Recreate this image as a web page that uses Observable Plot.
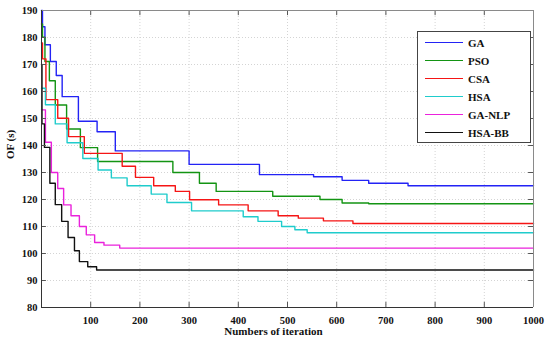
<!DOCTYPE html>
<html><head><meta charset="utf-8">
<script src="https://cdn.jsdelivr.net/npm/d3@7"></script>
<script src="https://cdn.jsdelivr.net/npm/@observablehq/plot@0.6"></script>
<style>
body{margin:0;background:#fff;}
#wrap{position:relative;width:550px;height:342px;}
.legend{position:absolute;left:417px;top:31px;width:114px;height:112px;border:1px solid #444;background:#fff;box-sizing:border-box;}
.item{position:absolute;left:0;height:14px;font:bold 11px "Liberation Serif","Times New Roman",serif;color:#111;}
.item span.ln{position:absolute;left:7px;top:6px;width:38px;height:0;border-top:1.5px solid;}
.item span.tx{position:absolute;left:50px;top:0;line-height:14px;white-space:nowrap;}
</style></head><body><div id="wrap"></div>
<script>
// ---- data ----
const seriesNames = ["GA", "PSO", "CSA", "HSA", "GA-NLP", "HSA-BB"];
const seriesColors = ["#2323f5", "#139413", "#f51515", "#1fcccc", "#ea22dc", "#111111"];

const gaIter = [0, 2, 7, 18, 30, 42, 75, 113, 150, 300, 443, 553, 611, 665, 745, 1000];
const gaOF   = [190, 184, 177.3, 171.1, 165.9, 158.1, 149, 145.1, 138, 133, 129.2, 128.4, 127.1, 126, 125.1, 125.1];

const psoIter = [0, 2, 7, 16, 28, 51, 79, 114, 267, 321, 355, 470, 566, 611, 665, 1000];
const psoOF   = [185, 180.1, 171.1, 164, 155, 146.1, 139.2, 134.1, 130, 126, 123, 121.2, 120, 118.7, 118.4, 118.4];

const csaIter = [0, 2, 9, 33, 55, 87, 164, 191, 228, 272, 301, 360, 420, 481, 522, 573, 633, 1000];
const csaOF   = [178, 172.1, 157, 150.1, 143.3, 137.1, 132.3, 128.2, 125.1, 123, 119.9, 118, 115.8, 114, 113.1, 112.1, 111.1, 111.1];

const hsaIter = [0, 8, 28, 52, 84, 115, 142, 174, 223, 255, 305, 410, 440, 488, 515, 540, 1000];
const hsaOF   = [161.2, 155.1, 148, 141, 135.2, 130.9, 128, 125.1, 122, 118.9, 115.8, 113.6, 111.9, 110, 108.8, 107.7, 107.7];

const gaNlpIter = [0, 8, 20, 33, 45, 60, 77, 91, 108, 127, 159, 1000];
const gaNlpOF   = [153.2, 141.2, 130, 124.1, 118, 114, 110, 106.9, 104.1, 103.1, 102, 102];

const hsaBbIter = [0, 1, 6, 17, 28, 41, 54, 67, 77, 94, 112, 1000];
const hsaBbOF   = [170, 148, 139.3, 126, 118.1, 111.9, 105.9, 101, 97, 95.1, 93.9, 93.9];

const xTicks = [100, 200, 300, 400, 500, 600, 700, 800, 900, 1000];
const yTicks = [80, 90, 100, 110, 120, 130, 140, 150, 160, 170, 180, 190];
const xLabel = "Numbers of iteration";
const yLabel = "OF (s)";

// ---- build table ----
const iters = [gaIter, psoIter, csaIter, hsaIter, gaNlpIter, hsaBbIter];
const ofs = [gaOF, psoOF, csaOF, hsaOF, gaNlpOF, hsaBbOF];
const rows = [];
seriesNames.forEach((name, i) => {
  iters[i].forEach((x, j) => rows.push({series: name, iter: x, of: ofs[i][j]}));
});

const font = {fontFamily: "'Liberation Serif', 'Times New Roman', serif", fontWeight: "bold"};
const tickLenX = 10, tickLenY = 1.9;

const chart = Plot.plot({
  width: 550, height: 342,
  marginLeft: 41, marginRight: 17, marginTop: 10, marginBottom: 35,
  style: {...font, fontSize: "10.5px", color: "#111", background: "#fff"},
  x: {domain: [0, 1000]},
  y: {domain: [80, 190]},
  marks: [
    Plot.gridX(xTicks, {stroke: "#d4d4d4", strokeOpacity: 1, strokeDasharray: "1,2"}),
    Plot.gridY(yTicks, {stroke: "#d4d4d4", strokeOpacity: 1, strokeDasharray: "1,2"}),
    Plot.line(rows, {x: "iter", y: "of", z: "series", stroke: "series", curve: "step-after", strokeWidth: 1.4}),
    // inward tick marks on all four sides
    Plot.ruleX(xTicks, {x: d => d, y1: 80, y2: 80 + tickLenY, stroke: "#555"}),
    Plot.ruleX(xTicks, {x: d => d, y1: 190, y2: 190 - tickLenY, stroke: "#555"}),
    Plot.ruleY(yTicks, {y: d => d, x1: 0, x2: tickLenX, stroke: "#555"}),
    Plot.ruleY(yTicks, {y: d => d, x1: 1000, x2: 1000 - tickLenX, stroke: "#555"}),
    // box
    Plot.ruleY([190], {stroke: "#8a8a8a"}),
    Plot.ruleX([1000], {stroke: "#8a8a8a"}),
    Plot.ruleX([0], {stroke: "#333"}),
    Plot.ruleY([80], {stroke: "#333"}),
    Plot.axisX(xTicks, {tickSize: 0, tickPadding: 9, label: null, fontSize: 10.5, tickFormat: d => String(d)}),
    Plot.axisY(yTicks, {tickSize: 0, tickPadding: 4, label: null, fontSize: 10.5, tickFormat: d => String(d)}),
    Plot.text([xLabel], {text: d => d, frameAnchor: "bottom", dy: 27, dx: -14, fontSize: 11, fontWeight: "bold"}),
    Plot.text([yLabel], {text: d => d, frameAnchor: "left", rotate: -90, dx: -31, fontSize: 11, fontWeight: "bold"})
  ],
  color: {domain: seriesNames, range: seriesColors}
});

const wrap = document.getElementById("wrap");
wrap.appendChild(chart);

// legend box (positioned over the plot area, upper right)
const lg = document.createElement("div");
lg.className = "legend";
seriesNames.forEach((name, i) => {
  const it = document.createElement("div");
  it.className = "item";
  it.style.top = (4 + i * 18) + "px";
  it.innerHTML = `<span class="ln" style="border-color:${seriesColors[i]}"></span><span class="tx">${name}</span>`;
  lg.appendChild(it);
});
wrap.appendChild(lg);
</script>
</body></html>
